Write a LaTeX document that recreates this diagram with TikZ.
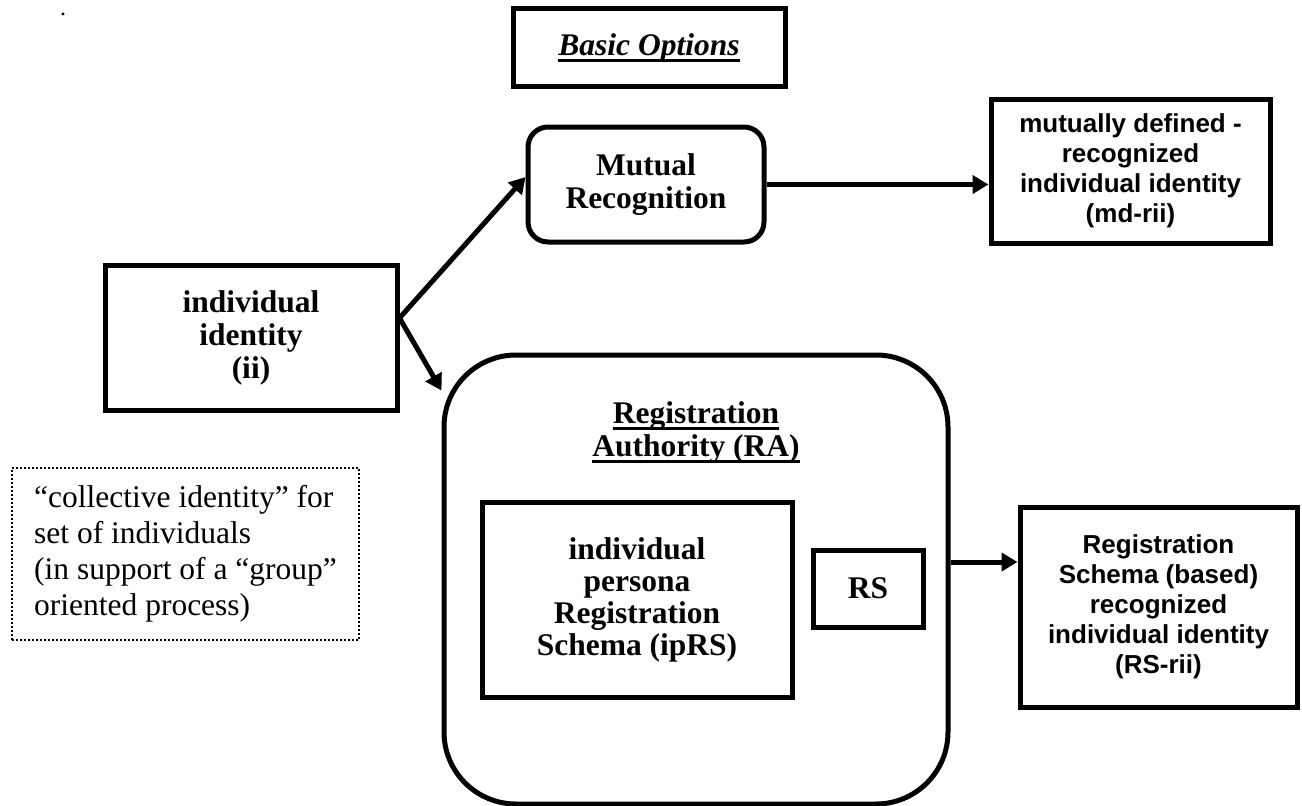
\documentclass[tikz,border=0pt]{standalone}
\usepackage{fontspec}
\setmainfont{Liberation Serif}
\newfontfamily\sansfont{Liberation Sans}
\usetikzlibrary{arrows.meta}

\begin{document}
\begin{tikzpicture}[x=1pt,y=-1pt,
  box/.style={draw, line width=5pt, inner sep=0pt, align=center,
    font=\bfseries\fontsize{31.5}{33}\selectfont},
  sbox/.style={box, font=\sansfont\bfseries\fontsize{26}{30}\selectfont},
  titletext/.style={inner sep=0pt, anchor=base, font=\bfseries\fontsize{31.5}{33}\selectfont},
  flow/.style={line width=5pt, -{Triangle[length=16pt,width=18pt]}},
  uline/.style={line width=3pt}]
\useasboundingbox (0,0) rectangle (1302,806);

% stray full stop in the top-left corner
\node[inner sep=0pt, anchor=base, font=\fontsize{24}{26}\selectfont] (dot) at (63,15) {.};

% heading
\node[draw, line width=5pt, minimum width=272pt, minimum height=78pt] (bo) at (649,47) {};
\node[titletext, font=\bfseries\itshape\fontsize{31.5}{33}\selectfont] (botext) at (649,55) {Basic Options};
\draw[uline] ([yshift=-5pt]botext.base west) -- ([yshift=-5pt]botext.base east);

% upper branch
\node[box, rounded corners=20pt, minimum width=236pt, minimum height=115pt] (mr) at (646,184.5) {Mutual\\Recognition};
\node[sbox, minimum width=279pt, minimum height=144pt] (md) at (1130.5,171)
  {mutually defined -\\recognized\\individual identity\\(md-rii)};

% source
\node[box, minimum width=292pt, minimum height=145pt] (ii) at (251,337.5) {individual\\identity\\(ii)};
\coordinate (fork) at ([yshift=19.5pt]ii.east);

% registration authority
\node[draw, line width=5pt, rounded corners=72pt, minimum width=504pt, minimum height=449pt] (ra) at (696,579.5) {};
\node[titletext] (raA) at (696,423) {Registration};
\node[titletext] (raB) at (696,456) {Authority (RA)};
\draw[uline] ([yshift=-5pt]raA.base west) -- ([yshift=-5pt]raA.base east);
\draw[uline] ([yshift=-5pt]raB.base west) -- ([yshift=-5pt]raB.base east);

\node[box, minimum width=310pt, minimum height=195pt, font=\bfseries\fontsize{31.5}{32}\selectfont] (iprs) at (637,599.5)
  {individual\\persona\\Registration\\Schema (ipRS)};
\node[box, minimum width=110pt, minimum height=77pt] (rs) at (868,588.5) {RS};

\node[sbox, minimum width=277pt, minimum height=200pt] (rsrii) at (1158.5,607)
  {Registration\\Schema (based)\\recognized\\individual identity\\(RS-rii)};

% side note
\node[draw, line width=2pt, dash pattern=on 2pt off 2pt, minimum width=347pt, minimum height=172pt,
  align=left, font=\fontsize{31.5}{36}\selectfont] (ci) at (185.5,554)
  {“collective identity” for\\set of individuals\\(in support of a “group”\\oriented process)};

% connectors
\draw[flow] (fork) -- ([yshift=7.5pt]mr.west);
\draw[flow] (fork) -- ([yshift=-38pt]ra.north west);
\draw[flow] (mr.east) -- (mr.east -| md.west);
\draw[flow] ([yshift=17.5pt]ra.east) -- ([yshift=17.5pt]ra.east -| rsrii.west);
\end{tikzpicture}
\end{document}
